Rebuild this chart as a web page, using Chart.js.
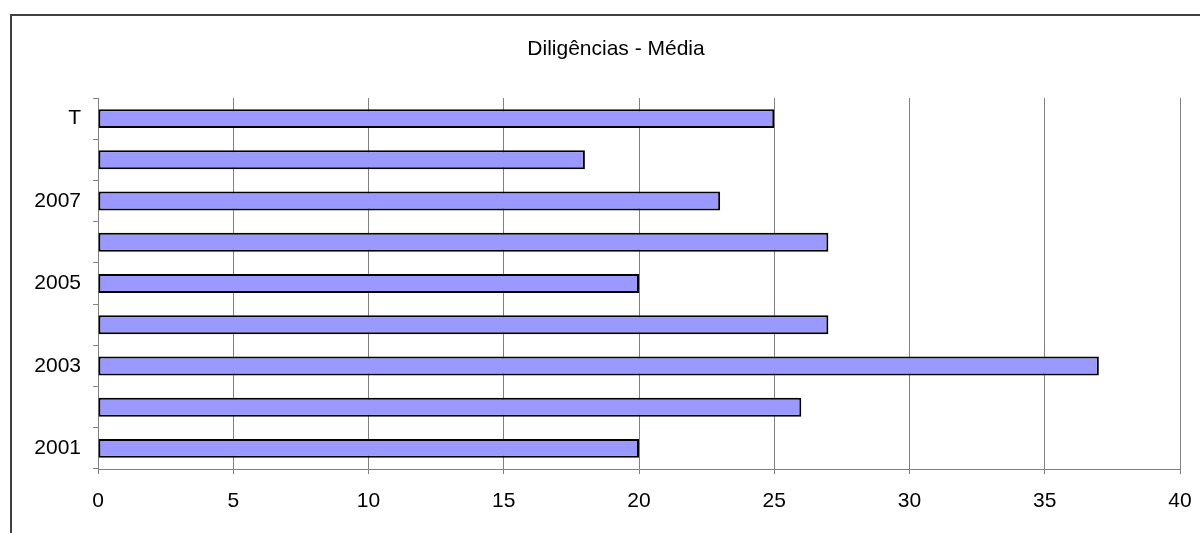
<!DOCTYPE html>
<html>
<head>
<meta charset="utf-8">
<script src="https://cdn.jsdelivr.net/npm/chart.js@4/dist/chart.umd.min.js"></script>
<style>
  html, body { margin: 0; padding: 0; background: #fff; overflow: hidden; }
  #wrap { position: relative; width: 1232px; height: 533px; }
  #frame { position: absolute; left: 10px; top: 14px; width: 1210px; height: 600px;
           border: 2px solid #404040; box-sizing: border-box; pointer-events: none; }
  canvas { position: absolute; left: 0; top: 0; }
</style>
</head>
<body>
<div id="wrap">
  <canvas id="chart" width="1232" height="533"></canvas>
  <div id="frame"></div>
</div>
<script>
// Média de diligências por ano (T = total)
const anos = ['2001', '2002', '2003', '2004', '2005', '2006', '2007', '2008', 'T'];
const media = [20, 26, 37, 27, 20, 27, 23, 18, 25];
const xTicks = [0, 5, 10, 15, 20, 25, 30, 35, 40];

Chart.defaults.font.family = '"Liberation Sans", Arial, sans-serif';
Chart.defaults.font.size = 21;
Chart.defaults.color = '#000';

const ctx = document.getElementById('chart').getContext('2d');
new Chart(ctx, {
  type: 'bar',
  data: {
    labels: anos,
    datasets: [{
      label: 'Média',
      data: media,
      backgroundColor: '#9999FF',
      borderColor: '#000',
      borderWidth: 2,
      borderSkipped: false,
      categoryPercentage: 1,
      barPercentage: 0.46
    }]
  },
  options: {
    indexAxis: 'y',
    responsive: false,
    animation: false,
    layout: { padding: 0 },
    plugins: {
      legend: { display: false },
      tooltip: { enabled: false },
      title: {
        display: true,
        text: 'Diligências - Média',
        color: '#000',
        font: { size: 21, weight: 'normal' },
        padding: { top: 37, bottom: 35.8 }
      }
    },
    scales: {
      x: {
        min: 0,
        max: 40,
        afterBuildTicks: s => { s.ticks = xTicks.map(v => ({ value: v })); },
        // keep the plot area ending at 40 with room on the right
        afterFit: s => { s.height = 64; s.paddingRight = 52; },
        grid: { color: '#808080', lineWidth: 1, tickLength: 5, tickColor: '#808080' },
        border: { display: true, color: '#808080', width: 1 },
        ticks: { padding: 15 }
      },
      y: {
        reverse: true,
        afterFit: s => { s.width = 98; },
        grid: { offset: true, drawOnChartArea: false, tickLength: 5, color: '#808080' },
        border: { display: true, color: '#808080', width: 1 },
        ticks: {
          autoSkip: false,
          padding: 12,
          callback: (v, i) => (i % 2 === 0 ? anos[i] : '')
        }
      }
    }
  }
});
</script>
</body>
</html>
